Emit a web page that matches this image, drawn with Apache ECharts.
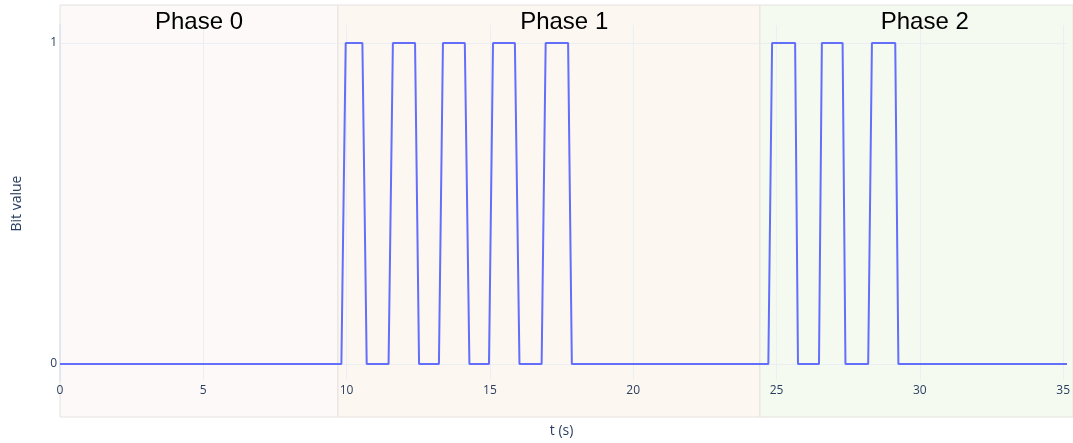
<!DOCTYPE html>
<html><head><meta charset="utf-8">
<script src="https://cdn.jsdelivr.net/npm/echarts@6/dist/echarts.min.js"></script>
<style>html,body{margin:0;padding:0;background:#fff}#c{width:1073px;height:443px}</style>
</head><body><div id="c"></div>
<script>
// Signal samples: time (s) and bit value
const tValues = [0, 9.78, 9.93, 10.51, 10.66, 11.42, 11.57, 12.34, 12.48, 13.17, 13.31, 14.07, 14.23, 14.91, 15.05, 15.81, 15.97, 16.74, 16.88, 17.66, 17.79, 24.62, 24.75, 25.55, 25.65, 26.38, 26.48, 27.20, 27.30, 28.09, 28.22, 29.03, 29.14, 35];
const bitValues = [0, 0, 1, 1, 0, 0, 1, 1, 0, 0, 1, 1, 0, 0, 1, 1, 0, 0, 1, 1, 0, 0, 1, 1, 0, 0, 1, 1, 0, 0, 1, 1, 0, 0];
// Phases
const phaseNames = ['Phase 0', 'Phase 1', 'Phase 2'];
const phaseStart = [0, 9.66, 24.32];
const phaseEnd = [9.66, 24.32, 35.2];
const phaseLabelT = [4.83, 17.52, 30.05];
const phaseColors = ['#fdf9f8', '#fdf7f1', '#f4faf0'];
// Axis ticks
const xTicks = [0, 5, 10, 15, 20, 25, 30, 35];
const yTicks = [0, 1];

const font = '"Open Sans", sans-serif';
const txt = '#2a3f5f';
const grid = '#ebeef3';

const chart = echarts.init(document.getElementById('c'), null, {renderer: 'canvas'});
chart.setOption({
  animation: false,
  backgroundColor: '#ffffff',
  grid: [
    {left: 60, right: 0, top: 5, bottom: 26},
    {left: 60, right: 6, top: 25, bottom: 61},
    {left: 60, right: 6, top: 43, bottom: 79}
  ],
  xAxis: [
    {gridIndex: 0, type: 'value', min: 0, max: phaseEnd[2], show: false},
    {gridIndex: 1, type: 'value', min: xTicks[0], max: xTicks[xTicks.length - 1], interval: 5, z: 3,
      axisLine: {show: false}, axisTick: {show: false},
      axisLabel: {color: txt, fontFamily: font, fontSize: 12, margin: 5},
      splitLine: {show: true, lineStyle: {color: grid, width: 1}},
      name: 't (s)', nameLocation: 'middle', nameGap: 44,
      nameTextStyle: {color: txt, fontFamily: font, fontSize: 14}},
    {gridIndex: 2, type: 'value', min: 0, max: 35, show: false}
  ],
  yAxis: [
    {gridIndex: 0, type: 'value', min: 0, max: 1, show: false},
    {gridIndex: 1, type: 'value', min: 0, max: 1, z: 3,
      axisLine: {show: true, lineStyle: {color: '#e2e6ee', width: 2}},
      axisTick: {show: false}, axisLabel: {show: false}, splitLine: {show: false}},
    {gridIndex: 2, type: 'value', min: yTicks[0], max: yTicks[1], interval: 1, z: 3,
      axisLine: {show: false}, axisTick: {show: false},
      axisLabel: {color: txt, fontFamily: font, fontSize: 12, margin: 3},
      splitLine: {show: true, lineStyle: {color: grid, width: 1}},
      name: 'Bit value', nameLocation: 'middle', nameGap: 36, nameRotate: 90,
      nameTextStyle: {color: txt, fontFamily: font, fontSize: 14}}
  ],
  series: [
    {
      type: 'line', xAxisIndex: 0, yAxisIndex: 0, z: 0, silent: true,
      data: [], showSymbol: false,
      markArea: {
        silent: true,
        data: phaseNames.map((n, i) => [
          {xAxis: phaseStart[i], yAxis: 0, itemStyle: {color: phaseColors[i], borderColor: '#e6e2de', borderWidth: 1}},
          {xAxis: phaseEnd[i], yAxis: 1}
        ])
      }
    },
    {
      type: 'scatter', xAxisIndex: 0, yAxisIndex: 0, z: 10, silent: true,
      symbolSize: 1, itemStyle: {color: '#ffffff', opacity: 0},
      data: phaseLabelT.map((t, i) => ({value: [t, 0.958], name: phaseNames[i]})),
      label: {show: true, position: 'inside', formatter: p => p.name, opacity: 1,
        fontFamily: '"Liberation Sans", Arial, sans-serif', fontSize: 24, color: '#000000'}
    },
    {
      type: 'line', xAxisIndex: 2, yAxisIndex: 2, z: 5,
      showSymbol: false, symbol: 'none',
      lineStyle: {color: '#636efa', width: 2},
      data: tValues.map((t, i) => [t, bitValues[i]])
    }
  ]
});
</script></body></html>
